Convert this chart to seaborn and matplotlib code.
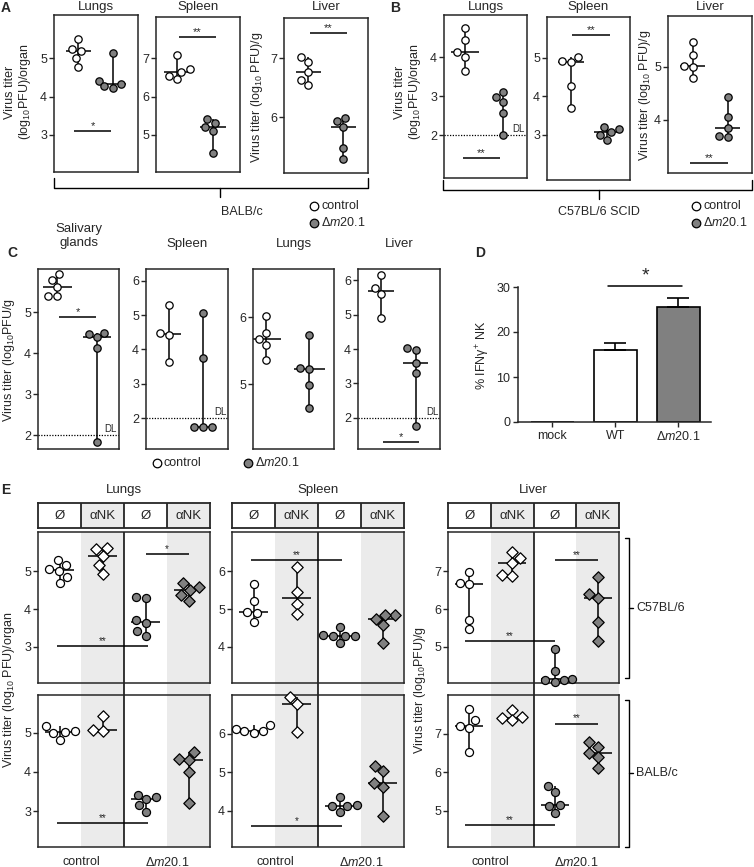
import numpy as np
import seaborn as sns
import matplotlib.pyplot as plt

W, H = 754, 867
GRAY = '#808080'
SHADE = '#ebebeb'

# ---- A: BALB/c, log10 PFU ----
a_lungs_ctrl = [5.5, 5.25, 5.19, 5.0, 4.78]
a_lungs_d = [5.15, 4.4, 4.32, 4.27, 4.22]
a_spleen_ctrl = [7.1, 6.72, 6.65, 6.55, 6.45]
a_spleen_d = [5.42, 5.32, 5.2, 5.1, 4.52]
a_liver_ctrl = [7.02, 6.93, 6.77, 6.62, 6.54]
a_liver_d = [5.98, 5.93, 5.83, 5.47, 5.29]

# ---- B: C57BL/6 SCID ----
b_lungs_ctrl = [4.75, 4.45, 4.12, 4.0, 3.65]
b_lungs_d = [3.11, 2.98, 2.85, 2.56, 2.0]
b_spleen_ctrl = [5.03, 4.93, 4.88, 4.27, 3.71]
b_spleen_d = [3.2, 3.15, 3.07, 3.0, 2.87]
b_liver_ctrl = [5.47, 5.22, 5.02, 5.0, 4.8]
b_liver_d = [4.44, 4.06, 3.85, 3.7, 3.68]

# ---- C ----
c_sg_ctrl = [5.93, 5.78, 5.6, 5.4, 5.38]
c_sg_d = [4.5, 4.47, 4.38, 4.12, 1.83]
c_spleen_ctrl = [5.3, 4.47, 4.42, 3.62]
c_spleen_d = [5.05, 3.75, 1.75, 1.75, 1.75]
c_lungs_ctrl = [6.02, 5.77, 5.67, 5.58, 5.36]
c_lungs_d = [5.73, 5.24, 5.22, 4.98, 4.65]
c_liver_ctrl = [6.15, 5.78, 5.6, 4.9]
c_liver_d = [4.03, 3.98, 3.6, 3.3, 1.78]

# ---- D ----
d_groups = ['mock', 'WT', 'Δm20.1']
d_mean = [0.0, 16.0, 25.5]
d_sem = [0.0, 1.6, 2.1]

# ---- E: groups = control Ø, control αNK, Δm20.1 Ø, Δm20.1 αNK ----
e_groups = ['c0', 'cnk', 'd0', 'dnk']
e_lungs_b6 = [[5.3, 5.17, 5.05, 5.0, 4.85, 4.68], [5.62, 5.58, 5.4, 5.15, 4.92],
              [4.32, 4.28, 3.7, 3.62, 3.42, 3.28], [4.68, 4.58, 4.5, 4.38, 4.22]]
e_lungs_balb = [[5.18, 5.05, 5.02, 5.0, 4.83], [5.43, 5.08, 5.05],
                [3.42, 3.35, 3.3, 3.15, 2.98], [4.5, 4.33, 4.3, 4.0, 3.2]]
e_spleen_b6 = [[5.66, 5.2, 4.92, 4.9, 4.67], [6.1, 5.46, 5.12, 4.87],
               [4.53, 4.32, 4.3, 4.3, 4.28, 4.1], [4.83, 4.83, 4.75, 4.57, 4.1]]
e_spleen_balb = [[6.24, 6.12, 6.08, 6.07, 6.03], [6.95, 6.78, 6.06],
                 [4.37, 4.14, 4.13, 4.12, 3.98], [5.17, 5.03, 4.72, 4.62, 3.87]]
e_liver_b6 = [[6.97, 6.68, 6.65, 5.72, 5.47], [7.5, 7.35, 7.2, 6.9, 6.88],
              [4.94, 4.36, 4.16, 4.14, 4.12, 4.08], [6.85, 6.4, 6.3, 5.65, 5.15]]
e_liver_balb = [[7.65, 7.35, 7.2, 7.15, 6.53], [7.62, 7.42, 7.4, 7.36],
                [5.65, 5.48, 5.14, 5.12, 4.93], [6.78, 6.65, 6.5, 6.38, 6.12]]

sns.set_style('ticks')
plt.rcParams['font.family'] = ['Liberation Sans', 'DejaVu Sans']
plt.rcParams['mathtext.fontset'] = 'custom'
plt.rcParams['mathtext.rm'] = 'Liberation Sans'
plt.rcParams['mathtext.it'] = 'Liberation Sans:italic'
plt.rcParams['axes.linewidth'] = 1.1

fig = plt.figure(figsize=(W / 100, H / 100), dpi=100)


def pax(l, t, r, b, **kw):
    return fig.add_axes([l / W, 1 - b / H, (r - l) / W, (b - t) / H], **kw)


ov = pax(0, 0, W, H)
ov.set_xlim(0, W)
ov.set_ylim(H, 0)
ov.axis('off')


def T(x, y, s, size=9, **kw):
    kw.setdefault('ha', 'center')
    kw.setdefault('va', 'center')
    ov.text(x, y, s, fontsize=size, **kw)


DM = 'Δ$\\mathit{m20.1}$'


def dots(ax, groups, order, markers, fills, hw=0.36, ms=5.3, med=None):
    for i, vals in enumerate(groups):
        v = np.asarray(vals)
        ax.vlines(i, v.min(), v.max(), color='black', lw=1.1, zorder=1)
        if med is None or med[i]:
            ax.hlines(np.median(v), i - hw, i + hw, color='black', lw=1.1, zorder=1)
        sns.swarmplot(x=[order[i]] * len(v), y=v, order=order, color=fills[i],
                      marker=markers[i], size=ms, edgecolor='black', linewidth=0.9,
                      ax=ax, zorder=3, clip_on=False)


def style(ax, ylim, yticks, xlim):
    ax.set_xlim(xlim)
    ax.set_ylim(ylim)
    ax.set_yticks(yticks)
    ax.set_xticks([])
    ax.set_xlabel('')
    ax.set_ylabel('')
    for s in ax.spines.values():
        s.set_visible(True)
        s.set_linewidth(1.1)
    ax.tick_params(axis='y', direction='out', length=3.5, width=1, labelsize=9, pad=1.5)


def sig(ax, x0, x1, y, label, size=8):
    ax.hlines(y, x0, x1, color='black', lw=1.1, zorder=2)
    ax.text((x0 + x1) / 2, y, label, ha='center', va='bottom', fontsize=size)


def dl(ax):
    ax.axhline(2, color='black', ls=(0, (1, 1.2)), lw=0.9, zorder=0.5)
    ax.text(ax.get_xlim()[1] - 0.05, 2.03, 'DL', ha='right', va='bottom', fontsize=7)


two = ['control', 'Δm20.1']

# ---------------- A & B & C dot panels ----------------
panels = [
    # box, data, ylim, yticks, xlim, title, title_y, sigs, dl
    ((54, 15, 138, 172), a_lungs_ctrl, a_lungs_d, (2.03, 6.13), [3, 4, 5], (-0.69, 1.71), 'Lungs', 7,
     [(-0.11, 0.94, 3.1, '*')], False),
    ((156, 17, 240, 172), a_spleen_ctrl, a_spleen_d, (4.03, 8.08), [5, 6, 7], (-0.58, 1.75), 'Spleen', 7,
     [(0.05, 1.08, 7.55, '**')], False),
    ((284, 18, 368, 173), a_liver_ctrl, a_liver_d, (5.05, 7.68), [6, 7], (-0.69, 1.71), 'Liver', 7,
     [(0.06, 1.1, 7.42, '**')], False),
    ((444, 15, 527, 178), b_lungs_ctrl, b_lungs_d, (0.9, 5.08), [2, 3, 4], (-0.55, 1.63), 'Lungs', 7,
     [(-0.05, 0.92, 1.41, '**')], True),
    ((547, 17, 630, 180), b_spleen_ctrl, b_spleen_d, (1.83, 6.06), [3, 4, 5], (-0.67, 1.64), 'Spleen', 7,
     [(0.03, 1.08, 5.6, '**')], False),
    ((668, 16, 752, 173), b_liver_ctrl, b_liver_d, (3.0, 5.96), [4, 5], (-0.71, 1.69), 'Liver', 7,
     [(-0.09, 1.0, 3.19, '**')], False),
    ((38, 269, 119, 449), c_sg_ctrl, c_sg_d, (1.66, 6.05), [2, 3, 4, 5], (-0.48, 1.55), 'Salivary\nglands', 236,
     [(0.05, 0.98, 4.88, '*')], True),
    ((146, 269, 228, 449), c_spleen_ctrl, c_spleen_d, (1.1, 6.34), [2, 3, 4, 5, 6], (-0.68, 1.74), 'Spleen', 244,
     [], True),
    ((253, 269, 334, 449), c_lungs_ctrl, c_lungs_d, (4.03, 6.72), [5, 6], (-0.3, 1.58), 'Lungs', 244,
     [], False),
    ((358, 269, 440, 449), c_liver_ctrl, c_liver_d, (1.1, 6.32), [2, 3, 4, 5, 6], (-0.66, 1.69), 'Liver', 244,
     [(0.06, 1.1, 1.3, '*')], True),
]

for k, (box, ctrl, dd, ylim, yt, xlim, title, ty, sigs, has_dl) in enumerate(panels):
    ax = pax(*box)
    # B lungs: no median bar drawn for the deletion mutant
    dots(ax, [ctrl, dd], two, ['o', 'o'], ['white', GRAY], med=[True, k != 3])
    style(ax, ylim, yt, xlim)
    for s in sigs:
        sig(ax, *s)
    if has_dl:
        dl(ax)
    T((box[0] + box[2]) / 2, ty, title, size=9.5)

# y labels, panel letters, braces and legends
T(10, 92, 'Virus titer', rotation=90)
T(25, 92, '(log$_{10}$PFU)/organ', rotation=90)
T(257, 97, 'Virus titer (log$_{10}$ PFU)/g', rotation=90)
T(400, 92, 'Virus titer', rotation=90)
T(415, 92, '(log$_{10}$PFU)/organ', rotation=90)
T(645, 95, 'Virus titer (log$_{10}$ PFU)/g', rotation=90)
T(9, 360, 'Virus titer (log$_{10}$PFU/g', rotation=90)

for lab, x, y in [('A', 6, 8), ('B', 395, 8), ('C', 12, 253), ('D', 480, 253), ('E', 6, 490)]:
    T(x, y, lab, size=10, fontweight='bold')

for (x0, x1, yb, xm), strain, sx in [((54, 368, 188, 220), 'BALB/c', 242),
                                      ((443, 752, 190, 599), 'C57BL/6 SCID', 599)]:
    ov.plot([x0, x0, x1, x1], [yb - 10, yb, yb, yb - 10], color='black', lw=1)
    ov.plot([xm, xm], [yb, yb + 9], color='black', lw=1)
    T(sx, 212, strain)

for lx, ly1, ly2 in [(314, 206, 223), (696, 206, 223)]:
    ov.scatter([lx], [ly1], s=38, facecolor='white', edgecolor='black', lw=0.9)
    ov.scatter([lx], [ly2], s=38, facecolor=GRAY, edgecolor='black', lw=0.9)
    T(lx + 7, ly1, 'control', ha='left')
    T(lx + 7, ly2, DM, ha='left')

ov.scatter([157], [463], s=38, facecolor='white', edgecolor='black', lw=0.9)
T(163, 463, 'control', ha='left')
ov.scatter([248], [463], s=38, facecolor=GRAY, edgecolor='black', lw=0.9)
T(255, 463, DM, ha='left')

# ---------------- D ----------------
axd = pax(518, 287, 711, 422)
sns.barplot(x=d_groups, y=d_mean, order=d_groups, hue=d_groups,
            palette={'mock': 'white', 'WT': 'white', 'Δm20.1': GRAY},
            edgecolor='black', linewidth=1.2, width=0.68, errorbar=None, legend=False, ax=axd)
idx = [i for i, e in enumerate(d_sem) if e > 0]
axd.errorbar(idx, [d_mean[i] for i in idx],
             yerr=[[0] * len(idx), [d_sem[i] for i in idx]],
             fmt='none', ecolor='black', elinewidth=1.2, capsize=8, capthick=1.2)
axd.set_xlim(-0.54, 2.52)
axd.set_ylim(0, 30)
axd.set_yticks([0, 10, 20, 30])
axd.set_xticks(range(3))
axd.set_xticklabels(['mock', 'WT', DM])
axd.set_xlabel('')
axd.set_ylabel('')
sns.despine(ax=axd)
axd.tick_params(direction='out', length=3.5, width=1, labelsize=9, pad=2)
axd.plot([0.89, 2.06], [30.2, 30.2], color='black', lw=1.1, clip_on=False)
axd.text(1.48, 30.6, '*', ha='center', va='bottom', fontsize=14)
T(483, 355, '% IFNγ${}^{+}$ NK', rotation=90)

# ---------------- E ----------------
e_cols = [
    # left, right, title, (data, ylim, yticks, sigs) x2
    (38, 210, 'Lungs',
     [(e_lungs_b6, (2.05, 6.03), [3, 4, 5], [(-0.05, 2.05, 3.03, '**'), (2.0, 3.0, 5.45, '*')]),
      (e_lungs_balb, (2.08, 5.97), [3, 4, 5], [(-0.05, 2.05, 2.69, '**')])]),
    (232, 404, 'Spleen',
     [(e_spleen_b6, (3.05, 7.03), [4, 5, 6], [(-0.05, 2.05, 6.3, '**')]),
      (e_spleen_balb, (3.06, 7.01), [4, 5, 6], [(-0.05, 2.05, 3.6, '*')])]),
    (448, 619, 'Liver',
     [(e_liver_b6, (4.05, 8.03), [5, 6, 7], [(2.0, 3.0, 7.3, '**'), (-0.1, 2.0, 5.16, '**')]),
      (e_liver_balb, (4.06, 8.0), [5, 6, 7], [(2.0, 3.0, 7.26, '**'), (-0.1, 2.0, 4.63, '**')])]),
]

rows = [(532, 683), (695, 847)]
for left, right, title, sub in e_cols:
    T((left + right) / 2, 490, title, size=9.5)
    hd = pax(left, 503, right, 528)
    hd.set_xlim(-0.5, 3.5)
    hd.set_ylim(0, 1)
    hd.axvspan(0.5, 1.5, color=SHADE, lw=0)
    hd.axvspan(2.5, 3.5, color=SHADE, lw=0)
    hd.vlines([0.5, 1.5, 2.5], 0, 1, color='black', lw=1.1)
    hd.set_xticks([])
    hd.set_yticks([])
    for s in hd.spines.values():
        s.set_linewidth(1.3)
    for i, lab in enumerate(['Ø', 'αNK', 'Ø', 'αNK']):
        hd.text(i, 0.47, lab, ha='center', va='center', fontsize=9.5)

    bg = pax(left, 532, right, 847)
    bg.set_xlim(-0.5, 3.5)
    bg.set_ylim(0, 1)
    bg.axvspan(0.5, 1.5, color=SHADE, lw=0)
    bg.axvspan(2.5, 3.5, color=SHADE, lw=0)
    bg.axvline(1.5, color='black', lw=1.1)
    bg.axis('off')

    for (top, bot), (data, ylim, yt, sigs) in zip(rows, sub):
        ax = pax(left, top, right, bot, facecolor='none')
        dots(ax, data, e_groups, ['o', 'D', 'o', 'D'], ['white', 'white', GRAY, GRAY],
             hw=0.33, ms=5.8)
        style(ax, ylim, yt, (-0.5, 3.5))
        for s in sigs:
            sig(ax, *s, size=7)

    gw = (right - left) / 4
    T(left + gw, 862, 'control')
    T(left + 3 * gw, 862, DM)

T(9, 690, 'Virus titer (log$_{10}$ PFU)/organ', rotation=90)
T(420, 690, 'Virus titer (log$_{10}$PFU)/g', rotation=90)

for y0, y1, ym, strain in [(538, 678, 608, 'C57BL/6'), (700, 847, 773, 'BALB/c')]:
    ov.plot([625, 629, 629, 625], [y0, y0, y1, y1], color='black', lw=1)
    ov.plot([629, 633], [ym, ym], color='black', lw=1)
    T(636, ym, strain, ha='left')

fig.savefig('out.png', dpi=100)
